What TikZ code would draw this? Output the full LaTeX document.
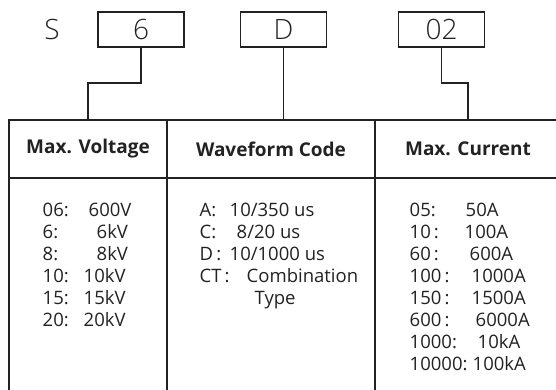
\documentclass[tikz,border=0pt]{standalone}
\usepackage{fontspec}
\setmainfont{Open Sans}
\newfontfamily\lightfont{Open Sans Light}
\definecolor{ink}{HTML}{222222}

\begin{document}
\begin{tikzpicture}[x=1pt, y=-1pt, line width=1.4pt, color=ink,
  codebox/.style={draw, line width=1.8pt, minimum width=86pt, minimum height=35pt, inner sep=0pt, font=\lightfont\fontsize{28}{28}\selectfont},
  headcell/.style={draw, minimum width=#1, minimum height=58pt, inner sep=0pt, font=\bfseries\fontsize{19}{21}\selectfont},
  bodycell/.style={draw, minimum width=#1, minimum height=232pt, inner sep=0pt},
  entry/.style={anchor=base west, inner sep=0pt, font=\fontsize{18.5}{21}\selectfont}]
\useasboundingbox (0,0) rectangle (556,390);
\clip (0,0) rectangle (556,390);

% part number
\node[font=\lightfont\fontsize{28}{28}\selectfont] (prefix) at (52,30) {S};
\node[codebox] (volt) at (141,29.5) {6};
\node[codebox] (wave) at (283.5,29.5) {D};
\node[codebox] (curr) at (441.5,29.5) {02};

% table
\node[headcell=158pt] (hv) at (88,149) {Max. Voltage};
\node[headcell=208pt] (hw) at (271,149) {Waveform Code};
\node[headcell=186pt] (hc) at (468,149) {Max. Current};
\node[bodycell=158pt] (bv) at (88,294) {};
\node[bodycell=208pt] (bw) at (271,294) {};
\node[bodycell=186pt] (bc) at (468,294) {};

% connectors
\draw (volt.south) -- ++(0,35) -| (hv.north);
\draw (wave.south) -- (wave.south |- hw.north);
\draw (curr.south) -- ++(0,35) -| (hc.north);

% voltage codes
\foreach \code/\val/\vx [count=\i from 0] in {06:/600V/88, 6:/6kV/96, 8:/8kV/96, 10:/10kV/83, 15:/15kV/83, 20:/20kV/83}{
  \node[entry] (vc\i) at (42,216.6+22*\i) {\code};
  \node[entry] (vv\i) at (\vx,216.6+22*\i) {\val};
}

% waveform codes
\foreach \code/\val/\vx [count=\i from 0] in {A:/{10/350 us}/229, C:/{8/20 us}/236, D\,:/{10/1000 us}/229, CT\,:/Combination/246}{
  \node[entry] (wc\i) at (199,216.6+22*\i) {\code};
  \node[entry] (wv\i) at (\vx,216.6+22*\i) {\val};
}
\node[entry] (wv4) at (254,304.6) {Type};

% current codes
\foreach \code/\val/\vx [count=\i from 0] in {05:/50A/465, 10\,:/100A/464, 60\,:/600A/469, 100\,:/1000A/471, 150\,:/1500A/471, 600\,:/6000A/475, 1000:/10kA/477, 10000:/100kA/472}{
  \node[entry] (cc\i) at (409,216.6+22*\i) {\code};
  \node[entry] (cv\i) at (\vx,216.6+22*\i) {\val};
}
\end{tikzpicture}
\end{document}
